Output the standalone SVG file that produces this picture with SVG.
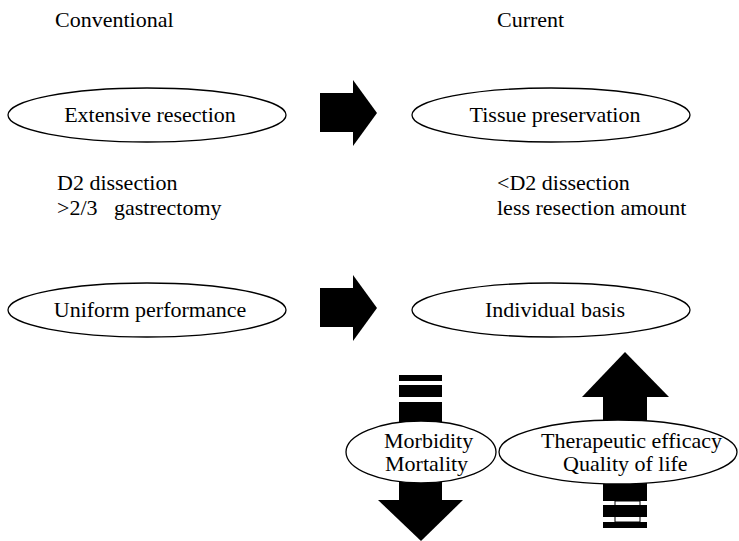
<svg xmlns="http://www.w3.org/2000/svg" width="739" height="541" viewBox="0 0 739 541" font-family="'Liberation Serif', 'DejaVu Serif', serif">
  <style>
    text { font-family: 'Liberation Serif', 'DejaVu Serif', serif; font-size: 22px; fill: #000; }
    .mid { text-anchor: middle; }
    .node ellipse { fill: #fff; stroke: #000; stroke-width: 1.3; }
    .block { fill: #000; stroke: none; }
  </style>

  <rect width="739" height="541" fill="#fff"/>

  <!-- column headings -->
  <g id="headings">
    <text x="55" y="27">Conventional</text>
    <text x="497" y="27">Current</text>
  </g>

  <!-- block arrows -->
  <g id="connectors">
    <!-- row 1: Extensive resection -> Tissue preservation -->
    <g class="block">
      <rect x="320" y="93" width="34" height="39"/>
      <polygon points="353,80 377,113 353,146"/>
    </g>
    <!-- row 2: Uniform performance -> Individual basis -->
    <g class="block">
      <rect x="320" y="288" width="34" height="39"/>
      <polygon points="353,275 377,308 353,341"/>
    </g>
    <!-- downward arrow with broken tail -->
    <g class="block">
      <rect x="399" y="375" width="43" height="6"/>
      <rect x="399" y="385" width="43" height="12"/>
      <rect x="399" y="402" width="43" height="99"/>
      <polygon points="378,500 463,500 421,541"/>
    </g>
    <!-- upward arrow with broken tail -->
    <rect x="615" y="501" width="25" height="21" fill="#fff" stroke="#000" stroke-width="1"/>
    <g class="block">
      <polygon points="582,397 625,352 669,397"/>
      <rect x="603" y="396" width="44" height="105"/>
      <rect x="603" y="505" width="44" height="12"/>
      <rect x="603" y="522" width="44" height="6"/>
    </g>
  </g>

  <g id="extensive-resection" class="node">
    <ellipse cx="147" cy="115" rx="139" ry="27"/>
    <text class="mid" x="150" y="122">Extensive resection</text>
  </g>

  <g id="tissue-preservation" class="node">
    <ellipse cx="551" cy="115" rx="139" ry="27"/>
    <text class="mid" x="555" y="122">Tissue preservation</text>
  </g>

  <g id="conventional-details">
    <text x="57" y="190">D2 dissection</text>
    <text x="57" y="215" xml:space="preserve">&gt;2/3   gastrectomy</text>
  </g>

  <g id="current-details">
    <text x="497" y="190">&lt;D2 dissection</text>
    <text x="497" y="215">less resection amount</text>
  </g>

  <g id="uniform-performance" class="node">
    <ellipse cx="147" cy="310" rx="139" ry="27"/>
    <text class="mid" x="150" y="317">Uniform performance</text>
  </g>

  <g id="individual-basis" class="node">
    <ellipse cx="551" cy="310" rx="139" ry="27"/>
    <text class="mid" x="555" y="317">Individual basis</text>
  </g>

  <g id="morbidity-mortality" class="node">
    <ellipse cx="421" cy="452" rx="75" ry="31"/>
    <text x="384" y="448">Morbidity</text>
    <text x="385" y="471">Mortality</text>
  </g>

  <g id="efficacy-quality" class="node">
    <ellipse cx="618" cy="452" rx="119" ry="32"/>
    <text x="541" y="448">Therapeutic efficacy</text>
    <text x="563" y="471">Quality of life</text>
  </g>
</svg>
